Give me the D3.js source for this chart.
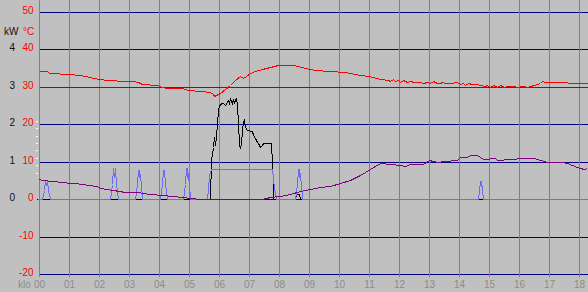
<!DOCTYPE html>
<html>
<head>
<meta charset="utf-8">
<script src="https://cdn.jsdelivr.net/npm/d3@7"></script>
<style>
html, body { margin: 0; padding: 0; background: #c0c0c0; }
svg { display: block; font-family: "Liberation Sans", Arial, sans-serif; }
</style>
</head>
<body>
<svg id="chart" width="588" height="292"></svg>
<script>
// ticks and labels
const hourTicks = [0,1,2,3,4,5,6,7,8,9,10,11,12,13,14,15,16,17,18];
const hourLabels = ["00","01","02","03","04","05","06","07","08","09","10","11","12","13","14","15","16","17","18"];
const tempTicks = [50,40,30,20,10,0,-10,-20];
const kwTicks = [4,3,2,1,0];
const minorTicks = [7,9,11,13,15,17,19,21];

// limit line, °C
const limitLine = [[0,30],[18.3,30]];

// supply water temperature, °C  [hour, value]
const supplyTemp = [
	[0,34.2],[0.27,34.2],[0.35,33.8],[1.04,33.4],[1.32,33.1],[1.58,32.8],[1.82,32.5],[2.04,32.2],
	[2.26,31.9],[2.54,31.8],[2.65,31.6],[3.15,31.6],[3.32,31.2],[3.43,30.8],[3.93,30.4],[4.1,29.9],
	[4.26,29.6],[4.76,29.6],[4.98,29.1],[5.37,28.9],[5.7,28.6],[5.8,28.0],[5.83,27.5],[5.9,27.8],
	[6.03,28.3],[6.2,29.4],[6.37,30.5],[6.53,31.8],[6.7,33.0],[6.8,32.4],[6.9,32.8],[7.03,33.7],
	[7.2,34.2],[7.43,34.7],[7.7,35.4],[7.97,35.8],[8.43,35.8],[8.63,35.5],[8.87,35.0],[9.2,34.6],
	[9.7,34.3],[10.2,33.9],[10.7,33.3],[11.0,32.8],[11.37,32.0],[11.64,31.8],[11.7,31.6],[11.81,32.0],
	[11.87,31.5],[11.98,31.8],[12.03,31.4],[12.14,31.8],[12.26,31.3],[12.37,31.6],[12.48,31.3],[12.7,31.3],
	[12.81,31.0],[12.92,31.4],[13.03,31.1],[13.14,31.5],[13.26,31.1],[13.37,30.9],[13.42,31.2],[13.53,30.9],
	[13.7,31.1],[13.92,31.3],[14.03,30.7],[14.14,31.1],[14.2,30.6],[14.31,30.9],[14.42,30.7],[14.59,30.8],
	[14.7,30.6],[14.87,30.1],[14.92,30.5],[15.03,30.0],[15.14,30.4],[15.26,30.0],[15.37,30.4],[15.48,30.0],
	[15.59,30.3],[15.81,30.3],[15.92,30.0],[16.14,30.2],[16.26,29.9],[16.37,30.2],[16.48,30.4],[16.59,30.7],
	[16.7,31.1],[16.76,31.5],[16.87,31.3],[17.59,31.3],[17.64,31.0],[18.26,31.0]
];

// outdoor temperature, °C
const outdoorTemp = [
	[0,5.3],[0.1,5.1],[0.43,4.9],[0.77,4.7],[1.04,4.4],[1.21,4.3],[1.43,4.1],[1.65,3.8],[1.93,3.4],
	[2.04,3.0],[2.48,2.5],[2.87,2.0],[3.26,1.8],[3.71,1.4],[4.1,1.1],[4.43,0.9],[4.76,0.5],[5.04,0.3],
	[5.37,0.1],[5.53,0],[7.43,0],[7.7,0.5],[8.04,0.9],[8.37,1.5],[8.7,2.2],[9.03,2.8],[9.37,3.3],
	[9.7,3.6],[10.03,4.3],[10.37,5.2],[10.7,6.5],[11.03,8.0],[11.37,9.7],[11.7,9.4],[12.03,9.1],
	[12.2,8.9],[12.37,9.3],[12.81,9.4],[12.98,10.5],[13.14,10.2],[13.31,10.0],[13.48,10.3],[13.92,10.5],
	[14.03,11.2],[14.26,11.2],[14.37,11.7],[14.59,11.7],[14.7,11.2],[14.81,10.7],[14.98,10.7],[15.03,10.9],
	[15.2,10.9],[15.26,10.5],[15.42,10.5],[15.53,10.7],[15.76,10.8],[16.09,11.1],[16.48,11.1],[16.59,10.8],
	[16.81,10.3],[16.92,10.0],[17.26,10.0],[17.42,9.8],[17.59,9.6],[17.76,9.1],[17.92,8.7],[18.03,8.3],
	[18.17,8.1],[18.26,8.3]
];

// heating power, kW
const powerKw = [
	[-0.08,0],[5.71,0],[5.75,1.05],[5.81,1.4],[5.84,1.65],[5.87,1.45],[5.9,1.65],[5.93,2.03],[5.96,2.38],
	[5.99,2.51],[6.02,2.51],[6.06,2.58],[6.15,2.58],[6.2,2.51],[6.29,2.65],[6.34,2.56],[6.37,2.67],
	[6.42,2.58],[6.46,2.67],[6.5,2.58],[6.54,2.67],[6.57,2.69],[6.59,2.51],[6.62,2.03],[6.67,1.47],
	[6.7,1.36],[6.74,1.49],[6.78,1.85],[6.81,2.07],[6.85,2.11],[6.87,1.94],[6.93,1.85],[7.09,1.83],
	[7.15,1.71],[7.2,1.63],[7.26,1.54],[7.31,1.49],[7.37,1.39],[7.42,1.45],[7.48,1.49],[7.72,1.49],
	[7.76,0.96],[7.79,0.43],[7.81,0],[8.53,0],[8.57,0.1],[8.6,0.14],[8.67,0.14],[8.7,0],[18.26,0]
];

// pump / burner state, plotted on the °C scale
const pumpState = [
	[-0.06,0],[0.11,0],[0.18,2.5],[0.22,5.1],[0.24,3.8],[0.27,5.1],[0.31,2.5],[0.38,0],
	[2.37,0],[2.44,4],[2.48,8.3],[2.52,6],[2.54,8.3],[2.59,4],[2.64,0],
	[3.21,0],[3.27,4],[3.3,7.8],[3.33,6],[3.35,7.8],[3.39,4],[3.44,0],
	[4.04,0],[4.11,4],[4.14,7.8],[4.16,6],[4.18,7.8],[4.22,4],[4.27,0],
	[4.81,0],[4.87,4],[4.9,8.3],[4.93,6],[4.95,8.3],[4.99,4],[5.04,0],
	[5.59,0],[5.65,2.9],[5.68,6.5],[5.73,8.1],[7.76,8.1],[7.81,5.6],[7.85,2.9],[7.9,0],
	[8.53,0],[8.59,4],[8.63,8.1],[8.66,6],[8.68,8.1],[8.72,4],[8.76,0],
	[14.63,0],[14.67,2.5],[14.69,4.9],[14.72,3.5],[14.74,4.9],[14.76,2.5],[14.79,0],[18.3,0]
];

const W = 588, H = 292, PLOT_BOTTOM = 277;
const svg = d3.select('#chart');

// rounded scales so everything lands on whole pixels like the original
const x = d3.scaleLinear().domain([0, 18]).rangeRound([38.7, 579.3]);
const y = d3.scaleLinear().domain([-20, 50]).rangeRound([274, 12]);

// horizontal grid
const hGrid = svg.append('g')
	.attr('transform', `translate(${x(0)},0)`)
	.call(d3.axisRight(y).tickValues(tempTicks).tickSize(W - x(0)).tickFormat('').offset(0.5));
hGrid.select('.domain').remove();
hGrid.selectAll('line').attr('stroke', '#000080').attr('shape-rendering', 'crispEdges');

// vertical grid + hour labels
const xAxis = svg.append('g')
	.attr('transform', `translate(0,${PLOT_BOTTOM})`)
	.call(d3.axisBottom(x).tickValues(hourTicks).tickSize(-PLOT_BOTTOM).tickPadding(4).offset(0.5)
		.tickFormat((d, i) => hourLabels[i]));
xAxis.select('.domain').remove();
xAxis.selectAll('line').attr('stroke', '#808080').attr('shape-rendering', 'crispEdges');
xAxis.selectAll('text')
	.attr('fill', '#8c8c8c')
	.attr('font-size', '10px')
	.attr('font-family', '"Liberation Sans", Arial, sans-serif');

svg.append('text')
	.attr('x', 18).attr('y', PLOT_BOTTOM + 11)
	.attr('fill', '#8c8c8c').attr('font-size', '10px')
	.text('klo');

// small white ticks left of the plot
svg.append('g').selectAll('line').data(minorTicks).join('line')
	.attr('x1', 36).attr('x2', 38)
	.attr('y1', d => y(d) + 0.5).attr('y2', d => y(d) + 0.5)
	.attr('stroke', '#ffffff');

// temperature labels
svg.append('g').selectAll('text').data(tempTicks).join('text')
	.attr('x', 33.5).attr('y', d => y(d) + 2)
	.attr('text-anchor', 'end')
	.attr('fill', '#ff0000').attr('font-size', '10px')
	.text(d => d);

// kW labels
svg.append('g').selectAll('text').data(kwTicks).join('text')
	.attr('x', 15).attr('y', d => y(d * 10) + 2)
	.attr('text-anchor', 'end')
	.attr('fill', '#111').attr('font-size', '10px')
	.text(d => d);

svg.append('text').attr('x', 4).attr('y', 35).attr('font-size', '10px').attr('fill', '#111').text('kW');
svg.append('text').attr('x', 23).attr('y', 35).attr('font-size', '10px').attr('fill', '#ff0000').text('°C');

// series
const lineT = d3.line().x(d => x(d[0]) + 0.5).y(d => y(d[1]) + 0.5);
const lineKw = d3.line().x(d => x(d[0]) + 0.5).y(d => y(d[1] * 10) + 0.5);

function drawSeries(data, gen, color) {
	svg.append('path')
		.datum(data)
		.attr('d', gen)
		.attr('fill', 'none')
		.attr('stroke', color)
		.attr('stroke-width', 1)
		.attr('shape-rendering', 'crispEdges');
}

drawSeries(limitLine, lineT, '#800080');
drawSeries(powerKw, lineKw, '#000000');
drawSeries(pumpState, lineT, '#6a6aff');
drawSeries(outdoorTemp, lineT, '#800080');
drawSeries(supplyTemp, lineT, '#ff0000');
</script>
</body>
</html>
